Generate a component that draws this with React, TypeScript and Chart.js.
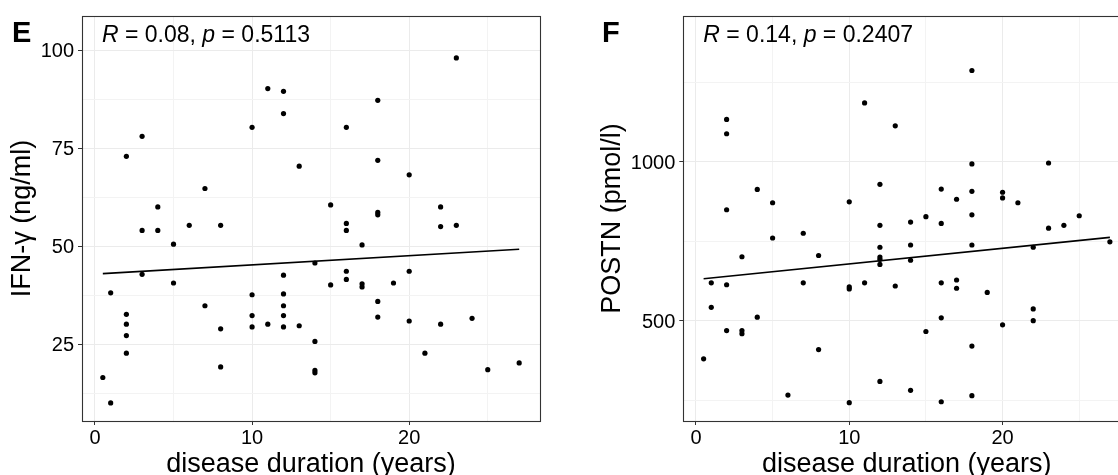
import React, { useEffect, useRef } from "react";
import { Chart, registerables } from "chart.js";

Chart.register(...registerables);

// ---------- Panel E: IFN-γ vs disease duration ----------
const durationE = [
  0.5, 1, 1, 2, 2, 2, 2, 2, 3, 3, 3, 4, 4, 5, 5, 6, 7, 7, 8, 8, 8,
  10, 10, 10, 10, 11, 11, 12, 12, 12, 12, 12, 12, 12, 13, 13,
  14, 14, 14, 14, 15, 15, 16, 16, 16, 16, 16, 17, 17, 17,
  18, 18, 18, 18, 18, 18, 19, 20, 20, 20, 21, 22, 22, 22, 23, 23, 24, 25, 27,
];
const ifnGamma = [
  16.5, 38.1, 10.0, 72.9, 32.6, 30.1, 27.2, 22.7, 78.0, 54.0, 42.8, 60.0, 54.0,
  50.5, 40.6, 55.3, 64.7, 34.8, 55.3, 28.9, 19.2, 80.3, 37.6, 32.3, 29.4, 90.2,
  30.1, 89.5, 83.8, 42.6, 37.8, 34.8, 32.3, 29.4, 70.4, 29.7, 45.7, 25.7, 18.3,
  17.7, 60.5, 40.1, 80.3, 55.8, 54.0, 43.6, 41.5, 50.3, 40.4, 39.6, 87.2, 71.9,
  58.6, 58.0, 35.9, 31.9, 40.6, 68.2, 43.6, 30.9, 22.7, 60.0, 55.0, 30.1, 98.0,
  55.3, 31.6, 18.5, 20.2,
];
const fitX = [0.5, 27];
const fitIFN = [43.0, 49.2];

// ---------- Panel F: POSTN vs disease duration ----------
const durationF = [
  0.5, 1, 1, 2, 2, 2, 2, 2, 3, 3, 3, 4, 4, 5, 5, 6, 7, 7, 8, 8,
  10, 10, 10, 10, 11, 11, 12, 12, 12, 12, 12, 12, 12, 13, 13,
  14, 14, 14, 14, 15, 15, 16, 16, 16, 16, 16, 17, 17, 17,
  18, 18, 18, 18, 18, 18, 18, 19, 20, 20, 20, 21, 22, 22, 22, 23, 23, 24, 25, 27,
];
const postn = [
  380, 619, 542, 1133, 1088, 849, 613, 469, 701, 469, 459, 913, 511, 871, 760,
  266, 775, 619, 705, 409, 874, 606, 600, 242, 1185, 619, 929, 800, 731, 700,
  693, 677, 309, 1113, 609, 810, 738, 690, 281, 827, 466, 914, 806, 619, 509,
  245, 882, 628, 602, 1287, 993, 907, 833, 738, 420, 264, 589, 904, 886, 487,
  871, 731, 537, 500, 996, 791, 800, 830, 748,
];
const fitPOSTN = [632, 762];

// ---------- ticks ----------
const xGridTicks = [0, 5, 10, 15, 20, 25];
const xLabelTicks = [0, 10, 20];
const yGridTicksE = [12.5, 25, 37.5, 50, 62.5, 75, 87.5, 100];
const yLabelTicksE = [25, 50, 75, 100];
const yGridTicksF = [250, 500, 750, 1000, 1250];
const yLabelTicksF = [500, 1000];

const FONT = "'Liberation Sans', Arial, Helvetica, sans-serif";

function decor(letter: string, rVal: string, pVal: string, letterX: number) {
  return {
    id: "decor",
    afterDatasetsDraw(chart: any) {
      const { ctx, chartArea: a } = chart;
      ctx.save();
      ctx.strokeStyle = "#333333";
      ctx.lineWidth = 1.1;
      const l = Math.round(a.left);
      const t = Math.round(a.top);
      ctx.strokeRect(l + 0.5, t + 0.5, Math.round(a.right) - l, Math.round(a.bottom) - t);
      const parts: [string, boolean][] = [
        ["R", true],
        [" = " + rVal + ", ", false],
        ["p", true],
        [" = " + pVal, false],
      ];
      let x = a.left + 20;
      const y = a.top + 26;
      ctx.fillStyle = "#000";
      ctx.textAlign = "left";
      ctx.textBaseline = "alphabetic";
      for (const [txt, it] of parts) {
        ctx.font = `${it ? "italic " : ""}23px ${FONT}`;
        ctx.fillText(txt, x, y);
        x += ctx.measureText(txt).width;
      }
      ctx.font = `bold 29px ${FONT}`;
      ctx.fillText(letter, letterX, 42);
      ctx.restore();
    },
  };
}

type PanelSpec = {
  xs: number[];
  ys: number[];
  fitY: number[];
  yMin: number;
  yMax: number;
  yGrid: number[];
  yLabels: number[];
  yTitle: string;
  yAxisWidth: number;
  yTitlePad: number;
  padRight: number;
  letter: string;
  letterX: number;
  rVal: string;
  pVal: string;
};

function buildConfig(p: PanelSpec): any {
  const points = p.xs.map((x, i) => ({ x, y: p.ys[i] }));
  const fit = fitX.map((x, i) => ({ x, y: p.fitY[i] }));
  const tickFont = { family: FONT, size: 20 };
  const titleFont = { family: FONT, size: 27 };
  return {
    type: "scatter",
    data: {
      datasets: [
        {
          data: fit,
          showLine: true,
          pointRadius: 0,
          borderColor: "#000",
          borderWidth: 1.6,
          fill: false,
          order: 2,
        },
        {
          data: points,
          pointRadius: 2.6,
          pointHoverRadius: 2.6,
          backgroundColor: "#000",
          borderColor: "#000",
          borderWidth: 0,
          order: 1,
        },
      ],
    },
    options: {
      responsive: false,
      animation: false,
      events: [],
      layout: { padding: { left: 0, top: 13, right: p.padRight, bottom: 0 } },
      plugins: { legend: { display: false }, tooltip: { enabled: false } },
      scales: {
        x: {
          type: "linear",
          position: "bottom",
          bounds: "data",
          min: -0.825,
          max: 28.325,
          afterBuildTicks: (s: any) => {
            s.ticks = xGridTicks.map((v) => ({ value: v }));
          },
          afterFit: (s: any) => {
            s.height = 79;
          },
          ticks: {
            autoSkip: false,
            maxRotation: 0,
            padding: 1,
            color: "#000",
            font: tickFont,
            callback: (v: number) => (xLabelTicks.includes(v) ? String(v) : ""),
          },
          grid: {
            color: (c: any) => (c.tick && xLabelTicks.includes(c.tick.value) ? "#EBEBEB" : "#F3F3F3"),
            lineWidth: 1,
            tickLength: 4,
            tickWidth: 1,
            tickColor: (c: any) =>
              c.tick && xLabelTicks.includes(c.tick.value) ? "#333333" : "rgba(0,0,0,0)",
          },
          border: { display: false },
          title: {
            display: true,
            text: "disease duration (years)",
            color: "#000",
            font: titleFont,
            padding: { top: 0, bottom: 19.7 },
          },
        },
        y: {
          type: "linear",
          position: "left",
          bounds: "data",
          min: p.yMin,
          max: p.yMax,
          afterBuildTicks: (s: any) => {
            s.ticks = p.yGrid.map((v) => ({ value: v }));
          },
          afterFit: (s: any) => {
            s.width = p.yAxisWidth;
          },
          ticks: {
            autoSkip: false,
            padding: 4,
            labelOffset: 1.5,
            color: "#000",
            font: tickFont,
            callback: (v: number) => (p.yLabels.includes(v) ? String(v) : ""),
          },
          grid: {
            color: (c: any) => (c.tick && p.yLabels.includes(c.tick.value) ? "#EBEBEB" : "#F3F3F3"),
            lineWidth: 1,
            tickLength: 4,
            tickWidth: 1,
            tickColor: (c: any) =>
              c.tick && p.yLabels.includes(c.tick.value) ? "#333333" : "rgba(0,0,0,0)",
          },
          border: { display: false },
          title: {
            display: true,
            text: p.yTitle,
            color: "#000",
            font: titleFont,
            padding: { top: p.yTitlePad, bottom: 0 },
          },
        },
      },
    },
    plugins: [decor(p.letter, p.rVal, p.pVal, p.letterX)],
  };
}

const panelE: PanelSpec = {
  xs: durationE,
  ys: ifnGamma,
  fitY: fitIFN,
  yMin: 5.4,
  yMax: 108.7,
  yGrid: yGridTicksE,
  yLabels: yLabelTicksE,
  yTitle: "IFN-γ (ng/ml)",
  yAxisWidth: 82,
  yTitlePad: 6.7,
  padRight: 20,
  letter: "E",
  letterX: 12,
  rVal: "0.08",
  pVal: "0.5113",
};

const panelF: PanelSpec = {
  xs: durationF,
  ys: postn,
  fitY: fitPOSTN,
  yMin: 184.4,
  yMax: 1458.4,
  yGrid: yGridTicksF,
  yLabels: yLabelTicksF,
  yTitle: "POSTN (pmol/l)",
  yAxisWidth: 123.3,
  yTitlePad: 36.7,
  padRight: 29.8,
  letter: "F",
  letterX: 42,
  rVal: "0.14",
  pVal: "0.2407",
};

export default function App() {
  const refE = useRef<HTMLCanvasElement | null>(null);
  const refF = useRef<HTMLCanvasElement | null>(null);

  useEffect(() => {
    const charts: Chart[] = [];
    if (refE.current) charts.push(new Chart(refE.current, buildConfig(panelE)));
    if (refF.current) charts.push(new Chart(refF.current, buildConfig(panelF)));
    return () => charts.forEach((c) => c.destroy());
  }, []);

  return (
    <div
      style={{
        position: "fixed",
        left: 0,
        top: 0,
        width: 1118,
        height: 475,
        overflow: "hidden",
        background: "#fff",
      }}
    >
      <canvas
        ref={refE}
        width={560}
        height={500}
        style={{ position: "absolute", left: 0, top: 0, width: 560, height: 500 }}
      />
      <canvas
        ref={refF}
        width={600}
        height={500}
        style={{ position: "absolute", left: 560, top: 0, width: 600, height: 500 }}
      />
    </div>
  );
}
